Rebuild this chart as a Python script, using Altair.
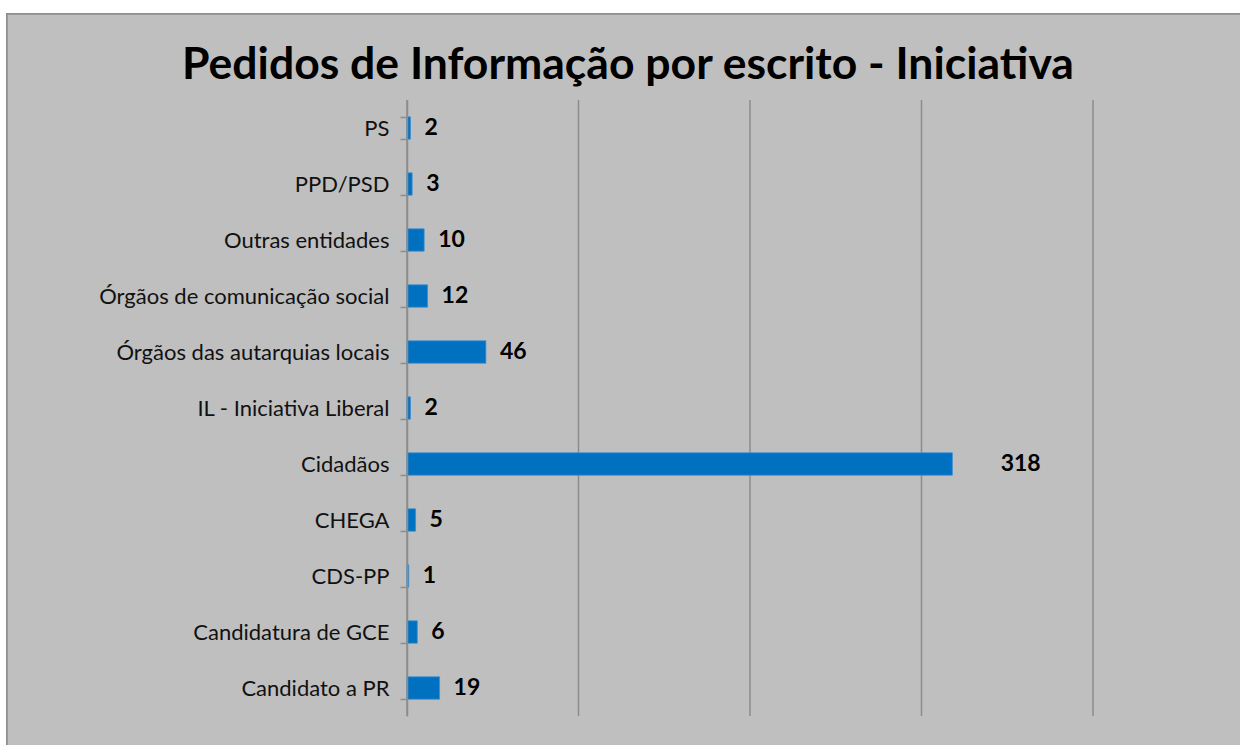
import altair as alt
import pandas as pd

categories = ["PS", "PPD/PSD", "Outras entidades", "Órgãos de comunicação social",
              "Órgãos das autarquias locais", "IL - Iniciativa Liberal ", "Cidadãos",
              "CHEGA", "CDS-PP", "Candidatura de GCE", "Candidato a PR"]
values = [2, 3, 10, 12, 46, 2, 318, 5, 1, 6, 19]
x_ticks = [0, 100, 200, 300, 400]

df = pd.DataFrame({"cat": categories, "val": values})

W, H = 686, 616
PL, PT, PR, PB = 407, 100, 147, 29
FONT = "Lato"

y_enc = alt.Y("cat:N", sort=categories, title=None,
              scale=alt.Scale(paddingInner=0.6, paddingOuter=0.3),
              axis=alt.Axis(tickBand="extent", labelFont=FONT, labelFontSize=22,
                            labelLimit=400,
                            labelColor="#111111", labelPadding=11, tickSize=7,
                            tickColor="#8C8C8C", domainColor="#8C8C8C",
                            tickWidth=1.5, domainWidth=1.5, grid=False, zindex=1))
x_scale = alt.Scale(domain=[0, 400], nice=False)

bg = alt.Chart(df).mark_rect(fill="#BFBFBF", stroke="#8E8E8E", strokeWidth=1.5).encode(
    x=alt.value(-(PL - 7)), x2=alt.value(W + PR + 10),
    y=alt.value(-(PT - 14)), y2=alt.value(H + PB + 10))

grid = alt.Chart(pd.DataFrame({"t": x_ticks})).mark_rule(color="#8C8C8C", strokeWidth=1.5).encode(
    x=alt.X("t:Q", scale=x_scale, axis=None))

bars = alt.Chart(df).mark_bar(color="#0070C0", stroke="#3D8FD6", strokeWidth=0.8).encode(
    x=alt.X("val:Q", scale=x_scale, axis=None),
    y=y_enc)

labels = alt.Chart(df).transform_calculate(
    lx="datum.val + (datum.val > 300 ? 20 : 0)"
).mark_text(align="left", baseline="middle", dx=14, font=FONT, fontSize=23,
            fontWeight="bold", color="#000000").encode(
    x=alt.X("lx:Q", scale=x_scale, axis=None),
    y=alt.Y("cat:N", sort=categories),
    text="val:Q")

chart = alt.layer(bg, grid, bars, labels).properties(
    width=W, height=H,
    autosize=alt.AutoSizeParams(type="none"),
    padding={"left": PL, "top": PT, "right": PR, "bottom": PB},
    background="#FFFFFF",
    title=alt.TitleParams("Pedidos de Informação por escrito - Iniciativa",
                          font=FONT, fontSize=44.5, fontWeight="bold", color="#000000",
                          anchor="middle", frame="group", dx=-122, offset=0, dy=75)
).configure_view(stroke=None)

chart.save("out.html", embed_options={"renderer": "svg", "actions": False})
